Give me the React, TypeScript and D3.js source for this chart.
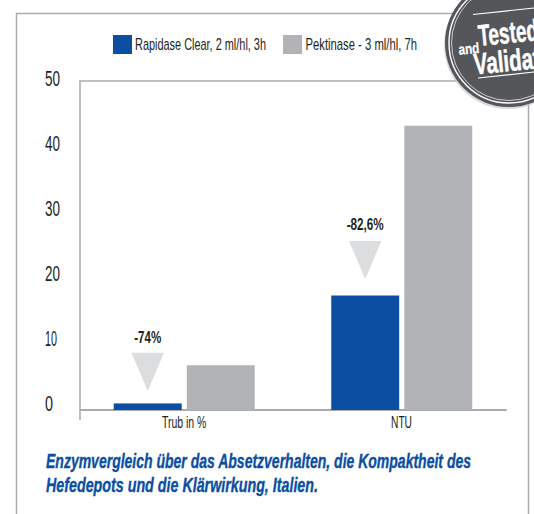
import React from "react";
import * as d3 from "d3";

const categories = ["Trub in %", "NTU"];
const seriesNames = ["Rapidase Clear, 2 ml/hl, 3h", "Pektinase - 3 ml/hl, 7h"];
const rapidase = [1.0, 17.4];
const pektinase = [6.8, 43.2];
const yTicks = [0, 10, 20, 30, 40, 50];
const reductionLabels = ["-74%", "-82,6%"];
const arrowTip = [2.9, 19.9];
const arrowTop = [8.7, 25.7];
const labelValue = [10.2, 27.4];
const caption = [
  "Enzymvergleich über das Absetzverhalten, die Kompaktheit des",
  "Hefedepots und die Klärwirkung, Italien.",
];

const BLUE = "#0B4EA2";
const GRAY = "#B1B3B6";
const LINE = "#A9ABAE";
const INK = "#231F20";
const BADGE = "#54565A";
const NARROW = "'Liberation Sans Narrow', 'Liberation Sans', sans-serif";

const y = d3.scaleLinear().domain([0, 50]).range([410, 81]);
const yLabel = d3.scaleLinear().domain([0, 50]).range([410.5, 85.5]);
const x0 = d3.scaleBand<string>().domain(categories).range([75.5, 510.5]);
const x1 = d3.scaleBand<string>().domain(["a", "b"]).range([-70.5, 70.5]).paddingInner(0.07);

function T(p: any) {
  return <text fontFamily={NARROW} lengthAdjust="spacingAndGlyphs" {...p} />;
}

export default function App() {
  const triangle = d3.line();
  return (
    <svg width={534} height={514} style={{ position: "absolute", left: 0, top: 0, display: "block", background: "#fff" }}>
      {/* outer frame */}
      <path d="M16.5 514V13.5H528.5V514" fill="none" stroke={LINE} strokeWidth={1.5} />

      {/* legend */}
      <rect x={113} y={35} width={19} height={19} fill={BLUE} />
      <T x={135} y={50} fontSize={17} fill={INK} textLength={131}>{seriesNames[0]}</T>
      <rect x={283} y={35} width={19} height={19} fill={GRAY} />
      <T x={305.5} y={50} fontSize={17} fill={INK} textLength={111.5}>{seriesNames[1]}</T>

      {/* plot frame */}
      <path d={`M${x0.range()[1] + 30} ${y(50)}H80V420`} fill="none" stroke={LINE} strokeWidth={1.5} />
      <line x1={80} x2={506.7} y1={y(0)} y2={y(0)} stroke={LINE} strokeWidth={1.8} />

      {/* y tick labels */}
      {yTicks.map((t) => (
        <T key={t} x={45} y={yLabel(t)} fontSize={21.5} fill={INK} textLength={t === 0 ? 8 : t === 10 ? 12 : 15}>
          {t}
        </T>
      ))}

      {categories.map((c, i) => {
        const cx = x0(c)! + x0.bandwidth() / 2;
        const ax = cx + x1("a")!;
        const bx = cx + x1("b")!;
        const mid = ax + x1.bandwidth() / 2;
        return (
          <g key={c}>
            <rect x={ax} y={y(rapidase[i])} width={x1.bandwidth()} height={y(0) - y(rapidase[i])} fill={BLUE} />
            <rect x={bx} y={y(pektinase[i])} width={x1.bandwidth()} height={y(0) - y(pektinase[i])} fill={GRAY} />
            <path
              d={triangle([[mid - 16.2, y(arrowTop[i])], [mid + 16.2, y(arrowTop[i])], [mid, y(arrowTip[i])]])! + "Z"}
              fill="#DCDDDE"
            />
            <T x={mid} y={y(labelValue[i])} textAnchor="middle" fontSize={17} fontWeight="bold" fill={INK} textLength={i === 0 ? 27 : 37}>
              {reductionLabels[i]}
            </T>
            <T x={i === 0 ? 184.2 : 401.5} y={428} textAnchor="middle" fontSize={16} fill={INK} textLength={i === 0 ? 44.5 : 21}>
              {c}
            </T>
          </g>
        );
      })}

      {/* caption */}
      <T x={46} y={468} fontSize={20} fontWeight="bold" fontStyle="italic" fill={BLUE} stroke={BLUE} strokeWidth={0.35} textLength={425}>{caption[0]}</T>
      <T x={46} y={492} fontSize={20} fontWeight="bold" fontStyle="italic" fill={BLUE} stroke={BLUE} strokeWidth={0.35} textLength={272}>{caption[1]}</T>

      {/* badge */}
      <circle cx={508} cy={45} r={64} fill="#C9CACC" opacity={0.7} />
      <circle cx={509} cy={43} r={64} fill={BADGE} />
      <circle cx={509} cy={43} r={60} fill="none" stroke="#fff" strokeWidth={1.4} />
      <circle cx={509} cy={43} r={57.5} fill="none" stroke="#fff" strokeWidth={0.7} />
      <line x1={473} y1={14.5} x2={534} y2={8} stroke="#fff" strokeWidth={1.2} />
      <line x1={478} y1={78} x2={534} y2={72} stroke="#fff" strokeWidth={1.2} />
      <g transform="rotate(-5.5 509 43)" fill="#fff" stroke="#fff" strokeWidth={0.5} fontWeight="bold">
        <T x={479} y={43} fontSize={30} textLength={60}>Tested</T>
        <T x={472} y={71} fontSize={30} textLength={66}>Validat</T>
        <T x={458} y={50} fontSize={15} textLength={21} strokeWidth={0.2}>and</T>
      </g>
    </svg>
  );
}
